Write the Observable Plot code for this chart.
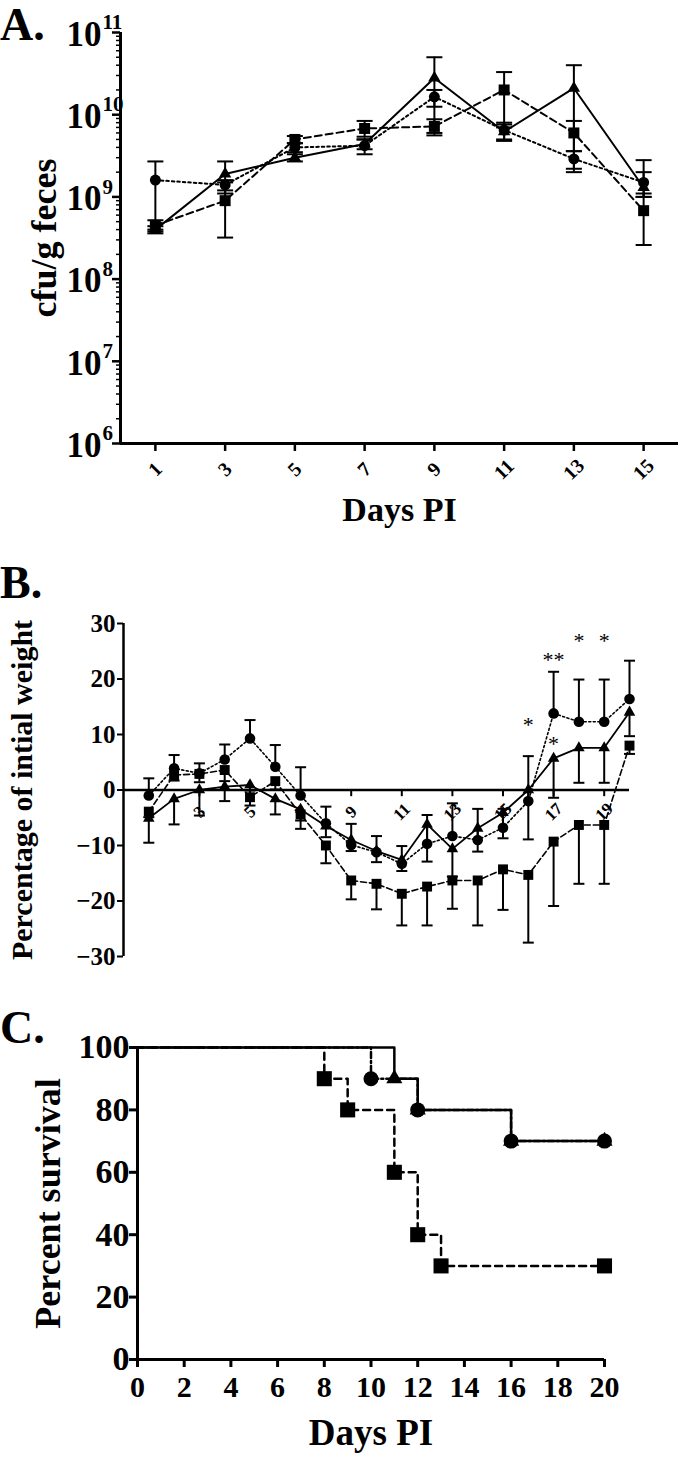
<!DOCTYPE html>
<html><head><meta charset="utf-8">
<script src="https://cdn.jsdelivr.net/npm/d3@7"></script>
<script src="https://cdn.jsdelivr.net/npm/@observablehq/plot@0.6"></script>
<style>
body{margin:0;background:#fff;}
#fig{position:relative;width:680px;height:1457px;font-family:"Liberation Serif","Times New Roman",serif;overflow:hidden;}
.lab{position:absolute;left:0;font-weight:bold;font-size:46px;line-height:1.1;color:#000;z-index:2;}
.pane{position:absolute;left:0;z-index:1;}
</style></head><body>
<div id="fig">
  <div class="pane" id="pA" style="top:0px"></div>
  <div class="pane" id="pB" style="top:545px"></div>
  <div class="pane" id="pC" style="top:1000px"></div>
  <div class="lab" style="top:0px">A.</div>
  <div class="lab" style="top:558px">B.</div>
  <div class="lab" style="top:1003px">C.</div>
</div>
<script>
// ---------- Panel A: cfu/g feces ----------
const daysA = [1, 3, 5, 7, 9, 11, 13, 15];
const aCircle   = [1.6e9, 1.4e9, 4.0e9, 4.2e9, 1.65e10, 6.5e9, 2.9e9, 1.5e9];
const aCircleLo = [4.0e8, 1.2e9, 3.5e9, 3.3e9, 1.25e10, 5.0e9, 2.2e9, 1.0e9];
const aCircleHi = [2.7e9, 1.6e9, 4.5e9, 5.0e9, 2.0e10, 8.0e9, 3.6e9, 2.0e9];
const aTri      = [4.0e8, 1.9e9, 3.0e9, 4.4e9, 2.8e10, 6.2e9, 2.1e10, 1.3e9];
const aTriLo    = [3.6e8, 1.1e9, 2.7e9, 3.8e9, 6.0e9, 4.8e9, 2.0e9, 1.0e9];
const aTriHi    = [4.4e8, 2.7e9, 3.3e9, 5.0e9, 5.0e10, 7.6e9, 4.0e10, 2.8e9];
const aSq       = [4.5e8, 9.0e8, 5.0e9, 6.8e9, 7.2e9, 2.0e10, 6.0e9, 6.8e8];
const aSqLo     = [3.8e8, 3.2e8, 4.5e9, 5.4e9, 5.6e9, 7.0e9, 3.6e9, 2.6e8];
const aSqHi     = [5.2e8, 1.5e9, 5.5e9, 8.4e9, 8.8e9, 3.3e10, 8.4e9, 1.1e9];
const aMajor = [1e6, 1e7, 1e8, 1e9, 1e10, 1e11];

// ---------- Panel B: percentage of initial weight ----------
const daysB = [1,2,3,4,5,6,7,8,9,10,11,12,13,14,15,16,17,18,19,20];
const bTickDays = [1,3,5,7,9,11,13,15,17,19];
const bCircle   = [-1.0, 3.9, 3.0, 5.5, 9.3, 4.2, -1.0, -6.0, -9.9, -11.2, -13.3, -9.7, -8.3, -9.0, -6.8, -2.0, 13.8, 12.3, 12.3, 16.4];
const bCircleSd = [3.1, 2.4, 1.8, 2.7, 3.3, 3.9, 5.1, 3.0, 3.8, 2.9, 3.2, 5.2, 5.9, 5.6, 3.4, 8.1, 7.5, 7.6, 7.6, 6.9];
const bTri      = [-5.1, -1.6, 0.0, 0.6, 0.9, -1.6, -3.5, -6.5, -9.0, -11.0, -12.6, -6.2, -10.6, -6.9, -4.1, 0.0, 5.7, 7.6, 7.6, 14.0];
const bTriSd    = [4.4, 4.6, 4.6, 2.6, 1.0, 2.8, 2.0, 2.0, 2.0, 2.0, 2.0, 6.7, 5.0, 4.2, 4.6, 8.9, 7.1, 6.3, 6.3, 4.3];
const bSq       = [-3.9, 2.7, 2.9, 3.6, -1.3, 1.6, -4.4, -10.0, -16.3, -16.9, -18.7, -17.4, -16.3, -16.3, -14.3, -15.3, -9.3, -6.3, -6.3, 8.0];
const bSqSd     = [1.0, 1.0, 1.5, 2.0, 1.5, 1.5, 2.6, 3.2, 3.4, 4.6, 5.7, 7.0, 5.1, 8.1, 7.3, 12.2, 11.6, 10.6, 10.6, 1.5];
const starDays = [16, 17, 17, 18, 19];
const starVals = [11.8, 23.4, 8.3, 26.9, 26.9];
const starText = ["*", "**", "*", "*", "*"];

// ---------- Panel C: survival ----------
const cDaysCircle = [0, 10, 12, 16, 20];
const cCircle     = [100, 90, 80, 70, 70];
const cDaysTri    = [0, 11, 12, 16, 20];
const cTri        = [100, 90, 80, 70, 70];
const cDaysSq     = [0, 8, 9, 11, 12, 13, 20];
const cSq         = [100, 90, 80, 60, 40, 30, 30];
const cTicksX = [0,2,4,6,8,10,12,14,16,18,20];
const cTicksY = [0,20,40,60,80,100];

const serif = "'Liberation Serif','Times New Roman',serif";
const capSym = (w) => ({draw(ctx){ ctx.moveTo(-w/2, 0); ctx.lineTo(w/2, 0); }});
const baseStyle = {fontFamily: serif, fontWeight: "bold", color: "#000", background: "transparent", overflow: "visible"};

function rowsOf(days, m, lo, hi) { return days.map((d, i) => ({day: d, v: m[i], lo: lo[i], hi: hi[i]})); }
const rAc = rowsOf(daysA, aCircle, aCircleLo, aCircleHi);
const rAt = rowsOf(daysA, aTri, aTriLo, aTriHi);
const rAs = rowsOf(daysA, aSq, aSqLo, aSqHi);
const minorA = [];
for (let e = 6; e < 11; e++) for (let m = 2; m < 10; m++) minorA.push(m * Math.pow(10, e));

function errMarks(rows, capW, sw) {
  return [
    Plot.ruleX(rows, {x: "day", y1: "lo", y2: "hi", stroke: "#000", strokeWidth: sw}),
    Plot.dot(rows, {x: "day", y: "lo", symbol: capSym(capW), stroke: "#000", fill: "none", strokeWidth: sw}),
    Plot.dot(rows, {x: "day", y: "hi", symbol: capSym(capW), stroke: "#000", fill: "none", strokeWidth: sw})
  ];
}

const plotA = Plot.plot({
  width: 680, height: 540, marginLeft: 120, marginRight: 2, marginTop: 32, marginBottom: 97,
  style: baseStyle,
  x: {domain: [0, 16], axis: null},
  y: {type: "log", domain: [1e6, 1e11], axis: null},
  marks: [
    Plot.axisY({ticks: minorA, tickSize: 4, tickFormat: () => "", strokeWidth: 1.5, label: null}),
    Plot.axisY({ticks: aMajor, tickSize: 8, tickFormat: () => "", strokeWidth: 2.5, label: null}),
    Plot.text(aMajor, {y: d => d, frameAnchor: "left", text: () => "10", textAnchor: "end", dx: -19, dy: 2, fontSize: 35, lineAnchor: "middle", fill: "#000"}),
    Plot.text(aMajor, {y: d => d, frameAnchor: "left", text: d => String(Math.round(Math.log10(d))), textAnchor: "start", dx: -18, dy: -10, fontSize: 21, lineAnchor: "middle", fill: "#000"}),
    Plot.axisX({ticks: daysA, tickSize: 8, tickFormat: () => "", strokeWidth: 2.5, label: null}),
    Plot.text(daysA, {x: d => d, frameAnchor: "bottom", dy: 26, rotate: -45, fontSize: 20, textAnchor: "middle", lineAnchor: "middle", fill: "#000"}),
    Plot.ruleX([0], {strokeWidth: 3}),
    Plot.ruleY([1e6], {strokeWidth: 3}),
    Plot.line(rAc, {x: "day", y: "v", strokeWidth: 2, strokeDasharray: "2.5,3"}),
    Plot.line(rAt, {x: "day", y: "v", strokeWidth: 2}),
    Plot.line(rAs, {x: "day", y: "v", strokeWidth: 2, strokeDasharray: "7,4"}),
    ...errMarks(rAc, 16, 2), ...errMarks(rAt, 16, 2), ...errMarks(rAs, 16, 2),
    Plot.dot(rAc, {x: "day", y: "v", symbol: "circle", r: 5.5, fill: "#000"}),
    Plot.dot(rAt, {x: "day", y: "v", symbol: "triangle", r: 4.6, fill: "#000"}),
    Plot.dot(rAs, {x: "day", y: "v", symbol: "square", r: 6.2, fill: "#000"}),
    Plot.text(["Days PI"], {frameAnchor: "bottom", dy: 67, fontSize: 34, textAnchor: "middle", lineAnchor: "middle", fill: "#000"}),
    Plot.text(["cfu/g feces"], {frameAnchor: "left", rotate: -90, dx: -76, fontSize: 36, textAnchor: "middle", lineAnchor: "middle", fill: "#000"})
  ]
});
document.getElementById("pA").appendChild(plotA);

// ---------- B ----------
const rBc = daysB.map((d, i) => ({day: d, v: bCircle[i], e: bCircle[i] + bCircleSd[i]}));
const rBt = daysB.map((d, i) => ({day: d, v: bTri[i], e: bTri[i] - bTriSd[i]}));
const rBs = daysB.map((d, i) => ({day: d, v: bSq[i], e: bSq[i] - bSqSd[i]}));
const rStars = starDays.map((d, i) => ({day: d, v: starVals[i], t: starText[i]}));
function errB(rows) {
  return [
    Plot.ruleX(rows, {x: "day", y1: "v", y2: "e", stroke: "#000", strokeWidth: 2}),
    Plot.dot(rows, {x: "day", y: "e", symbol: capSym(11), stroke: "#000", fill: "none", strokeWidth: 2})
  ];
}
const plotB = Plot.plot({
  width: 680, height: 441, marginLeft: 123, marginRight: 51, marginTop: 78, marginBottom: 30,
  style: baseStyle,
  x: {domain: [0, 20], axis: null},
  y: {domain: [-30, 30], axis: null},
  marks: [
    Plot.axisY({ticks: [-30, -20, -10, 0, 10, 20, 30], tickSize: 6, tickPadding: 2, fontSize: 25, strokeWidth: 2, label: null}),
    Plot.ruleX([0], {strokeWidth: 2.5}),
    Plot.ruleY([0], {strokeWidth: 2.5}),
    Plot.ruleX(bTickDays, {x: d => d, y1: 0, y2: -1.2, strokeWidth: 2}),
    Plot.text(bTickDays, {x: d => d, y: 0, dy: 22, rotate: -45, fontSize: 17, textAnchor: "middle", lineAnchor: "middle", fill: "#000"}),
    Plot.line(rBc, {x: "day", y: "v", strokeWidth: 1.6, strokeDasharray: "2,2.5"}),
    Plot.line(rBt, {x: "day", y: "v", strokeWidth: 1.8}),
    Plot.line(rBs, {x: "day", y: "v", strokeWidth: 1.6, strokeDasharray: "6,3"}),
    ...errB(rBc), ...errB(rBt), ...errB(rBs),
    Plot.dot(rBc, {x: "day", y: "v", symbol: "circle", r: 5.3, fill: "#000"}),
    Plot.dot(rBt, {x: "day", y: "v", symbol: "triangle", r: 4.3, fill: "#000"}),
    Plot.dot(rBs, {x: "day", y: "v", symbol: "square", r: 5.6, fill: "#000"}),
    Plot.text(rStars, {x: "day", y: "v", text: "t", fontSize: 22, fontWeight: "normal", lineAnchor: "middle", fill: "#000"}),
    Plot.text(["Percentage of intial weight"], {frameAnchor: "left", rotate: -90, dx: -101, fontSize: 30, textAnchor: "middle", lineAnchor: "middle", fill: "#000"})
  ]
});
document.getElementById("pB").appendChild(plotB);

// ---------- C ----------
const rCc = cDaysCircle.map((d, i) => ({day: d, v: cCircle[i]}));
const rCt = cDaysTri.map((d, i) => ({day: d, v: cTri[i]}));
const rCs = cDaysSq.map((d, i) => ({day: d, v: cSq[i]}));
const plotC = Plot.plot({
  width: 680, height: 457, marginLeft: 137, marginRight: 76, marginTop: 47, marginBottom: 98,
  style: baseStyle,
  x: {domain: [0, 20], axis: null},
  y: {domain: [0, 100], axis: null},
  marks: [
    Plot.axisY({ticks: cTicksY, tickSize: 8, tickPadding: 0, fontSize: 34, strokeWidth: 3, label: null}),
    Plot.axisX({ticks: cTicksX, tickSize: 8, tickPadding: 8, fontSize: 30, strokeWidth: 3, label: null}),
    Plot.ruleX([0], {strokeWidth: 3}),
    Plot.ruleY([0], {strokeWidth: 3}),
    Plot.line(rCc, {x: "day", y: "v", curve: "step-after", strokeWidth: 2.5, strokeDasharray: "6,3,2,3"}),
    Plot.line(rCs, {x: "day", y: "v", curve: "step-after", strokeWidth: 2.5, strokeDasharray: "7,5"}),
    Plot.line(rCt, {x: "day", y: "v", curve: "step-after", strokeWidth: 2.5}),
    Plot.dot(rCc.slice(1), {x: "day", y: "v", symbol: "circle", r: 7.5, fill: "#000"}),
    Plot.dot(rCt.slice(1), {x: "day", y: "v", symbol: "triangle", r: 6, fill: "#000"}),
    Plot.dot(rCs.slice(1), {x: "day", y: "v", symbol: "square", r: 8.5, fill: "#000"}),
    Plot.text(["Days PI"], {frameAnchor: "bottom", dy: 74, fontSize: 37, textAnchor: "middle", lineAnchor: "middle", fill: "#000"}),
    Plot.text(["Percent survival"], {frameAnchor: "left", rotate: -90, dx: -89, fontSize: 36, textAnchor: "middle", lineAnchor: "middle", fill: "#000"})
  ]
});
document.getElementById("pC").appendChild(plotC);
</script>
</body></html>
